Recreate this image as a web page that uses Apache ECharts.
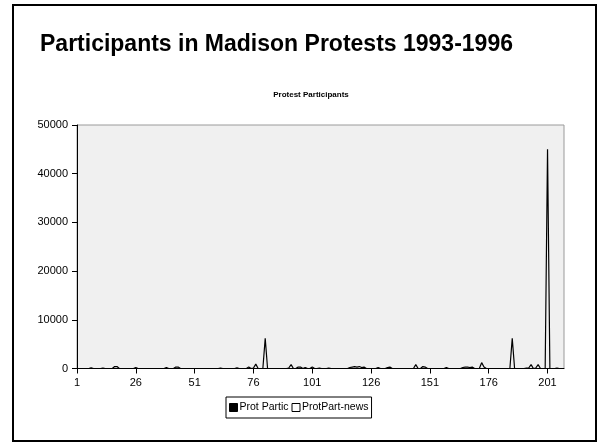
<!DOCTYPE html>
<html>
<head>
<meta charset="utf-8">
<script src="https://cdn.jsdelivr.net/npm/echarts@6/dist/echarts.min.js"></script>
<style>
html,body{margin:0;padding:0;background:#fff;}
#c{width:602px;height:445px;}
</style>
</head>
<body>
<div id="c"></div>
<script>
const titleText = "Participants in Madison Protests 1993-1996";
const subtitleText = "Protest Participants";
const seriesNames = ["Prot Partic", "ProtPart-news"];
const categories = [];
for (let i = 1; i <= 208; i++) categories.push(String(i));
const yTicks = [0, 10000, 20000, 30000, 40000, 50000];

const protPartic = [
  0,0,0,0,0,0,150,0,0,0,
  0,100,0,0,0,0,400,400,0,0,
  0,0,0,0,0,200,0,0,0,0,
  0,0,0,0,0,0,0,0,200,0,
  0,0,300,300,0,0,0,0,0,0,
  0,0,0,0,0,0,0,0,0,0,
  0,100,0,0,0,0,0,0,150,0,
  0,0,0,300,0,100,900,0,0,0,
  6200,0,0,0,0,0,0,0,0,0,
  100,800,0,0,300,300,0,200,0,0,
  300,0,0,100,0,0,0,100,0,0,
  0,0,0,0,0,0,200,300,400,300,
  400,200,300,0,0,0,0,0,200,0,
  0,0,200,300,0,0,0,0,0,0,
  0,0,0,0,800,0,0,400,300,0,
  0,0,0,0,0,0,0,200,0,0,
  0,0,0,0,200,300,300,200,300,0,
  0,0,1200,300,0,0,0,0,0,0,
  0,0,0,0,0,6200,0,0,0,0,
  0,100,100,800,0,100,800,0,0,0,
  45000,0,0,0,100,0,0,0
];
const protPartNews = [];

const FONT = "'Liberation Sans', Arial, sans-serif";
const chart = echarts.init(document.getElementById('c'), null, {renderer: 'canvas'});
chart.setOption({
  animation: false,
  backgroundColor: '#ffffff',
  textStyle: {fontFamily: FONT},
  title: [
    {text: titleText, left: 35, top: 28,
     textStyle: {fontFamily: FONT, fontSize: 23, fontWeight: 'bold', color: '#000'}},
    {text: subtitleText, left: 306, top: 86, textAlign: 'center',
     textStyle: {fontFamily: FONT, fontSize: 8, fontWeight: 'bold', color: '#000'}}
  ],
  graphic: [
    {type: 'rect', shape: {x: 13, y: 5, width: 583, height: 436},
     style: {fill: 'none', stroke: '#000', lineWidth: 2}, z: 100}
  ],
  grid: {left: 77, right: 38, top: 125, bottom: 76.5, show: true,
         backgroundColor: '#f0f0f0', borderColor: '#9a9a9a', borderWidth: 1},
  legend: {
    left: 226, top: 397,
    data: [
      {name: seriesNames[0], icon: 'rect', itemStyle: {color: '#000', borderColor: '#000', borderWidth: 1}},
      {name: seriesNames[1], icon: 'rect', itemStyle: {color: '#fff', borderColor: '#000', borderWidth: 1}}
    ],
    itemWidth: 8, itemHeight: 8, itemGap: 3,
    borderColor: '#000', borderWidth: 1, padding: [5, 3],
    textStyle: {fontFamily: FONT, fontSize: 10.5, color: '#000', padding: [0, 0, 0, -3]}
  },
  xAxis: {
    type: 'category', data: categories, boundaryGap: false,
    axisLine: {lineStyle: {color: '#000', width: 1}},
    axisTick: {show: true, interval: 24, length: 5, lineStyle: {color: '#000'}},
    axisLabel: {interval: 24, color: '#000', fontSize: 11, fontFamily: FONT, margin: 9},
    splitLine: {show: false}
  },
  yAxis: {
    type: 'value', min: yTicks[0], max: yTicks[yTicks.length - 1], interval: 10000,
    axisLine: {show: true, lineStyle: {color: '#000', width: 1}},
    axisTick: {show: true, length: 5, lineStyle: {color: '#000'}},
    axisLabel: {color: '#000', fontSize: 11, fontFamily: FONT, margin: 9,
                formatter: function (v) { return String(v); }},
    splitLine: {show: false}
  },
  series: [
    {name: seriesNames[0], type: 'line', data: protPartic, showSymbol: false, symbol: 'none',
     lineStyle: {color: '#000', width: 1.2}, itemStyle: {color: '#000'}, z: 3},
    {name: seriesNames[1], type: 'line', data: protPartNews, showSymbol: false, symbol: 'none',
     lineStyle: {color: '#fff', width: 1}, itemStyle: {color: '#fff'}}
  ]
});
</script>
</body>
</html>
